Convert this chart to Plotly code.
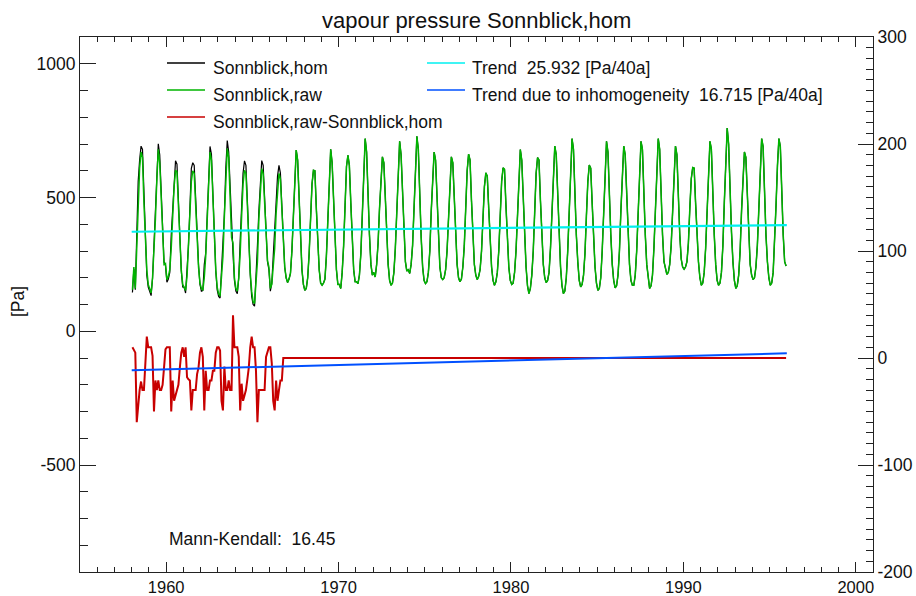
import plotly.graph_objects as go

# ---------------- data ----------------
years = list(range(1958, 1996))

# monthly vapour pressure, raw series [Pa], Jan..Dec per year
raw_by_year = [
    [155, 240, 160, 330, 520, 610, 670, 650, 480, 340, 230, 175],  # 1958
    [160, 143, 200, 290, 420, 570, 680, 630, 480, 350, 250, 253],  # 1959
    [193, 205, 230, 310, 430, 540, 602, 595, 470, 340, 230, 175],  # 1960
    [165, 153, 205, 300, 440, 560, 600, 590, 470, 350, 240, 180],  # 1961
    [160, 153, 200, 280, 420, 570, 670, 640, 480, 340, 230, 165],  # 1962
    [140, 131, 190, 280, 430, 580, 683, 650, 490, 350, 330, 200],  # 1963
    [160, 150, 200, 290, 430, 550, 602, 590, 470, 330, 220, 150],  # 1964
    [110, 104, 180, 260, 420, 540, 608, 590, 460, 330, 265, 240],  # 1965
    [160, 175, 230, 310, 440, 540, 590, 570, 450, 330, 240, 200],  # 1966
    [182, 195, 216, 300, 440, 580, 677, 640, 480, 340, 230, 175],  # 1967
    [153, 160, 200, 290, 430, 550, 602, 600, 460, 330, 230, 180],  # 1968
    [172, 180, 195, 280, 440, 580, 680, 630, 480, 340, 230, 175],  # 1969
    [175, 160, 220, 320, 470, 616, 658, 620, 480, 340, 230, 185],  # 1970
    [185, 178, 210, 290, 440, 600, 720, 670, 500, 360, 250, 210],  # 1971
    [220, 203, 250, 330, 460, 580, 652, 630, 480, 360, 250, 190],  # 1972
    [172, 180, 220, 310, 460, 610, 710, 660, 500, 360, 260, 225],  # 1973
    [230, 216, 250, 320, 470, 620, 729, 680, 500, 350, 240, 190],  # 1974
    [178, 185, 220, 300, 450, 590, 670, 640, 480, 340, 240, 200],  # 1975
    [193, 200, 230, 300, 440, 580, 652, 630, 480, 350, 250, 200],  # 1976
    [185, 195, 240, 320, 460, 600, 662, 640, 490, 360, 250, 210],  # 1977
    [193, 205, 230, 300, 430, 540, 592, 580, 460, 340, 240, 190],  # 1978
    [172, 185, 220, 300, 440, 560, 611, 605, 470, 340, 240, 190],  # 1979
    [175, 180, 220, 300, 450, 600, 679, 640, 490, 350, 240, 170],  # 1980
    [141, 160, 210, 300, 450, 590, 649, 640, 490, 350, 250, 200],  # 1981
    [182, 190, 220, 310, 460, 610, 692, 660, 500, 360, 240, 170],  # 1982
    [141, 150, 200, 300, 460, 620, 720, 680, 500, 360, 260, 190],  # 1983
    [166, 175, 210, 290, 430, 560, 621, 610, 480, 350, 240, 180],  # 1984
    [153, 160, 200, 300, 460, 610, 710, 670, 500, 360, 250, 190],  # 1985
    [162, 170, 210, 300, 450, 600, 692, 660, 500, 360, 250, 190],  # 1986
    [172, 172, 210, 300, 450, 610, 710, 680, 500, 360, 250, 190],  # 1987
    [160, 170, 210, 310, 470, 620, 720, 680, 500, 360, 260, 230],  # 1988
    [213, 220, 250, 320, 460, 600, 692, 660, 490, 360, 270, 240],  # 1989
    [232, 240, 260, 330, 460, 570, 612, 610, 480, 360, 260, 200],  # 1990
    [172, 180, 220, 310, 470, 610, 710, 680, 500, 360, 250, 190],  # 1991
    [172, 180, 220, 320, 480, 640, 760, 700, 510, 370, 260, 190],  # 1992
    [160, 170, 210, 300, 450, 590, 670, 650, 490, 350, 250, 210],  # 1993
    [193, 200, 240, 320, 470, 620, 720, 690, 500, 360, 260, 200],  # 1994
    [172, 180, 220, 320, 470, 620, 720, 690, 500, 360, 260, 244],  # 1995
]

# raw minus homogenised [Pa], Jan 1958 .. Sep 1966 (right axis); zero afterwards
diff_1958_1966 = [
    10, 7, 5, -60, -40, -30, -22, -30, -30, -5, 20, 10,
    10, 10, 2, -50, -21, -30, -21, -30, -30, -25, -9, 8,
    10, 10, 10, -50, -21, -40, -35, -30, -25, -9, 5, 10,
    1, 10, -18, -20, -21, -49, -30, -30, -30, -15, -9, 5,
    10, 1, -49, -12, -30, -30, -21, -21, -12, -12, 5, 10,
    10, 7, -40, -49, -8, -30, -30, -21, -30, -30, 40, 10,
    10, 10, 1, -49, -24, -40, -35, -30, -20, -9, 10, 20,
    10, 10, -12, -60, -30, -30, -30, -30, -30, 1, 5, 10,
    10, -5, -40, -49, -21, -40, -30, -21, -21,
]

trend_x = [1958.0, 1996.0]
trend_y = [372.0, 397.0]          # left axis, 25.932 Pa/40a
inhom_trend_y = [-11.5, 4.4]      # right axis, 16.715 Pa/40a

left_tickvals = [-500, 0, 500, 1000]
left_ticktext = ["-500", "0", "500", "1000"]
right_tickvals = [-200, -100, 0, 100, 200, 300]
right_ticktext = ["-200", "-100", "0", "100", "200", "300"]
x_tickvals = [1960, 1970, 1980, 1990, 2000]
x_ticktext = ["1960", "1970", "1980", "1990", "2000"]

legend_entries = [
    ("Sonnblick,hom", "black", 0),
    ("Sonnblick,raw", "#00b400", 0),
    ("Sonnblick,raw-Sonnblick,hom", "#c80000", 0),
    ("Trend  25.932 [Pa/40a]", "#00f0f0", 1),
    ("Trend due to inhomogeneity  16.715 [Pa/40a]", "#0050ff", 1),
]

# ---------------- build series ----------------
t = []
raw = []
for y, vals in zip(years, raw_by_year):
    for m, v in enumerate(vals):
        t.append(y + (m + 0.5) / 12.0)
        raw.append(v)
diff = diff_1958_1966 + [0.0] * (len(raw) - len(diff_1958_1966))
hom = [r - d for r, d in zip(raw, diff)]

FONT = "Liberation Sans, Arial, sans-serif"
TXT = "#111"
fig = go.Figure()
fig.add_trace(go.Scatter(x=t, y=hom, mode="lines", line=dict(color="black", width=1.2),
                         showlegend=False))
fig.add_trace(go.Scatter(x=t, y=raw, mode="lines", line=dict(color="#00b400", width=1.5),
                         showlegend=False))
fig.add_trace(go.Scatter(x=t, y=diff, mode="lines", line=dict(color="#c80000", width=2),
                         yaxis="y2", showlegend=False))
fig.add_trace(go.Scatter(x=trend_x, y=trend_y, mode="lines", line=dict(color="#00f0f0", width=2.2),
                         showlegend=False))
fig.add_trace(go.Scatter(x=trend_x, y=inhom_trend_y, mode="lines", line=dict(color="#0050ff", width=2),
                         yaxis="y2", showlegend=False))

# plot area in pixels
L, R, T, B = 80, 873, 37, 572
W, H = 916, 596
def px(x):
    return (x - L) / (R - L)
def py(y):
    return (B - y) / (B - T)

shapes = []
annotations = []
col_line = [(167, 205), (427, 465)]
col_text = [211, 470]
row_line = [63, 90, 117]
rows = [0, 0]
for name, color, col in legend_entries:
    r = rows[col]
    rows[col] += 1
    x0, x1 = col_line[col]
    shapes.append(dict(type="line", xref="paper", yref="paper", x0=px(x0), x1=px(x1),
                       y0=py(row_line[r]), y1=py(row_line[r]),
                       line=dict(color=color, width=1.5)))
    annotations.append(dict(text=name, xref="paper", yref="paper", x=px(col_text[col]),
                            y=py(row_line[r] + 5), xanchor="left", yanchor="middle",
                            showarrow=False, font=dict(size=17.5, color=TXT, family=FONT)))

annotations.append(dict(text="Mann-Kendall:  16.45", xref="paper", yref="paper", x=px(167),
                        y=py(539), xanchor="left", yanchor="middle", showarrow=False,
                        font=dict(size=17.5, color=TXT, family=FONT)))
annotations.append(dict(text="vapour pressure Sonnblick,hom", xref="paper", yref="paper",
                        x=0.5, y=py(20), xanchor="center", yanchor="middle", showarrow=False,
                        font=dict(size=22, color=TXT, family=FONT)))
annotations.append(dict(text="[Pa]", xref="paper", yref="paper", x=px(18), y=py(302),
                        xanchor="center", yanchor="middle", textangle=-90, showarrow=False,
                        font=dict(size=17.5, color=TXT, family=FONT)))

axis_common = dict(showgrid=False, zeroline=False, showline=True, linecolor="#222",
                   linewidth=1, ticks="inside", tickcolor="#222", automargin=False)

fig.update_layout(
    width=W, height=H,
    margin=dict(l=L, r=W - R, t=T, b=H - B, autoexpand=False),
    plot_bgcolor="white", paper_bgcolor="white",
    showlegend=False,
    xaxis=dict(range=[1955, 2001], tickmode="array", tickvals=x_tickvals, ticktext=x_ticktext,
               ticklen=10, mirror="ticks",
               tickfont=dict(size=16.5, color=TXT, family=FONT),
               minor=dict(tickmode="linear", tick0=1955, dtick=1, ticklen=5, ticks="inside",
                          tickcolor="#222"),
               **axis_common),
    yaxis=dict(range=[-900, 1100], tickmode="array", tickvals=left_tickvals,
               ticktext=left_ticktext, ticklen=16,
               tickfont=dict(size=17.5, color=TXT, family=FONT),
               minor=dict(tickmode="linear", tick0=0, dtick=100, ticklen=8, ticks="inside",
                          tickcolor="#222"),
               **axis_common),
    yaxis2=dict(range=[-200, 300], overlaying="y", side="right", tickmode="array",
                tickvals=right_tickvals, ticktext=right_ticktext, ticklen=15,
                tickfont=dict(size=17.5, color=TXT, family=FONT),
                minor=dict(tickmode="linear", tick0=0, dtick=10, ticklen=7, ticks="inside",
                           tickcolor="#222"),
                **axis_common),
    shapes=shapes,
    annotations=annotations,
)

fig.write_html("out.html")
